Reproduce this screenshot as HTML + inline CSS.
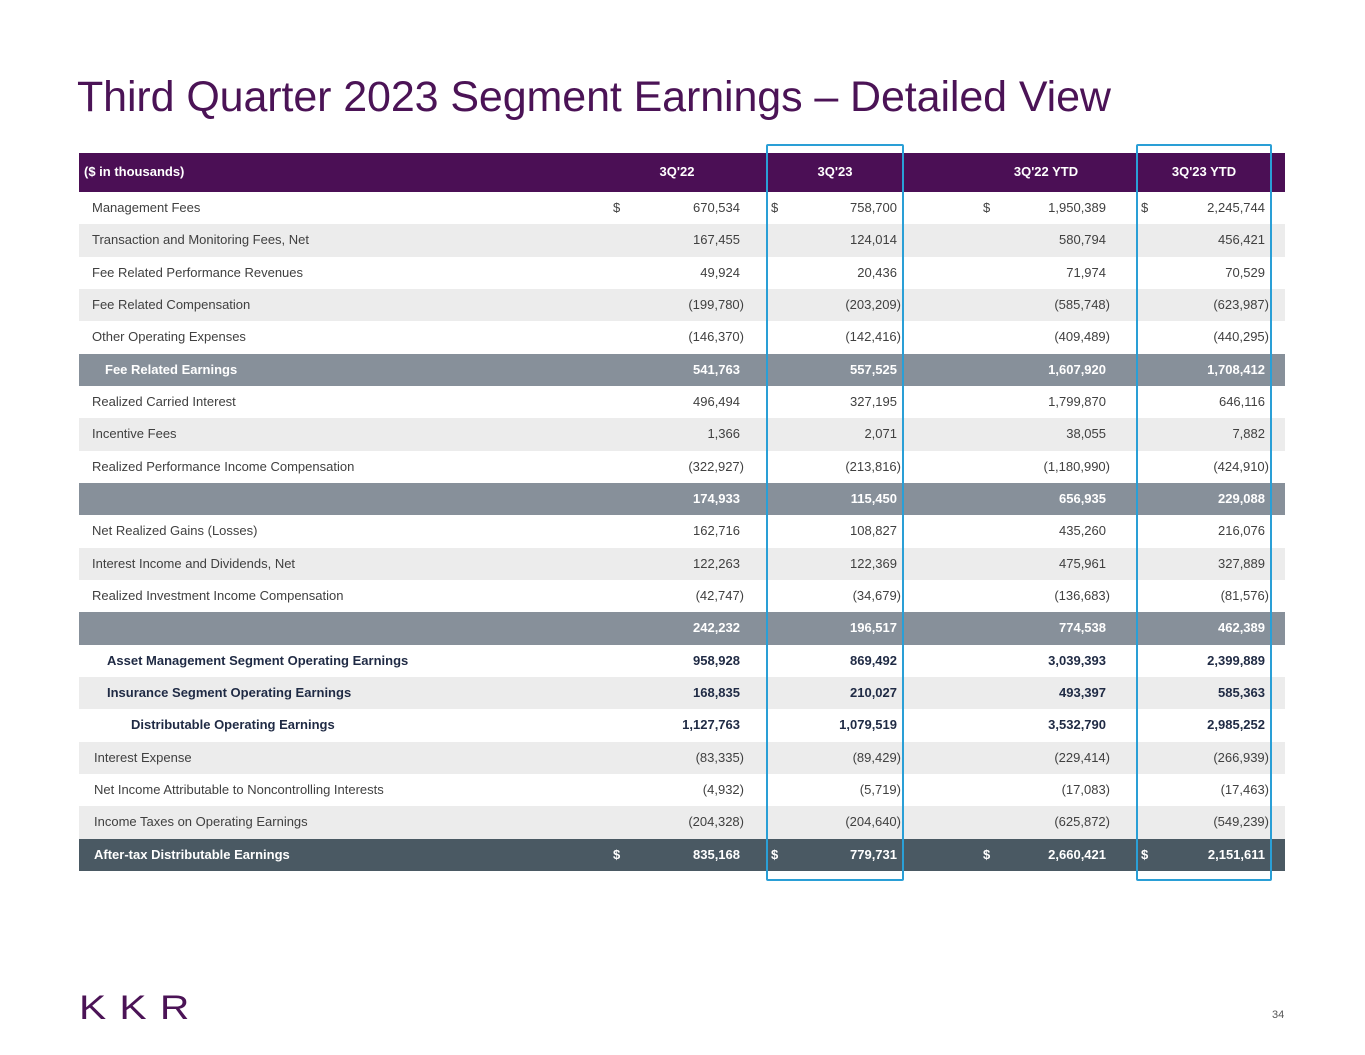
<!DOCTYPE html>
<html><head><meta charset="utf-8"><style>
body{margin:0;width:1365px;height:1055px;background:#fff;font-family:"Liberation Sans",sans-serif;position:relative;overflow:hidden}
.t{position:absolute;white-space:nowrap}
.row{position:absolute;left:79px;width:1206px}
.hl{position:absolute;z-index:5;border:2px solid #2a9fd6;border-radius:2px;box-sizing:border-box}
</style></head><body>
<div class="t" style="left:77px;top:73px;font-size:43px;color:#4b1356;letter-spacing:-0.1px">Third Quarter 2023 Segment Earnings – Detailed View</div>
<div id="tbl"></div>
<div class="t" style="left:79px;top:989px;font-size:34px;color:#4b1356;letter-spacing:11px;transform:scaleX(1.2);transform-origin:left">KKR</div>
<div class="t" style="left:1272px;top:1009px;font-size:11px;color:#555">34</div>
<div class="hl" style="left:766px;top:144px;width:138px;height:737px"></div>
<div class="hl" style="left:1136px;top:144px;width:136px;height:737px"></div>
<script>
const headers=["3Q'22","3Q'23","3Q'22 YTD","3Q'23 YTD"];
const labels=["Management Fees","Transaction and Monitoring Fees, Net","Fee Related Performance Revenues","Fee Related Compensation","Other Operating Expenses","Fee Related Earnings","Realized Carried Interest","Incentive Fees","Realized Performance Income Compensation","","Net Realized Gains (Losses)","Interest Income and Dividends, Net","Realized Investment Income Compensation","","Asset Management Segment Operating Earnings","Insurance Segment Operating Earnings","Distributable Operating Earnings","Interest Expense","Net Income Attributable to Noncontrolling Interests","Income Taxes on Operating Earnings","After-tax Distributable Earnings"];
const col3Q22=["670,534","167,455","49,924","(199,780)","(146,370)","541,763","496,494","1,366","(322,927)","174,933","162,716","122,263","(42,747)","242,232","958,928","168,835","1,127,763","(83,335)","(4,932)","(204,328)","835,168"];
const col3Q23=["758,700","124,014","20,436","(203,209)","(142,416)","557,525","327,195","2,071","(213,816)","115,450","108,827","122,369","(34,679)","196,517","869,492","210,027","1,079,519","(89,429)","(5,719)","(204,640)","779,731"];
const col3Q22YTD=["1,950,389","580,794","71,974","(585,748)","(409,489)","1,607,920","1,799,870","38,055","(1,180,990)","656,935","435,260","475,961","(136,683)","774,538","3,039,393","493,397","3,532,790","(229,414)","(17,083)","(625,872)","2,660,421"];
const col3Q23YTD=["2,245,744","456,421","70,529","(623,987)","(440,295)","1,708,412","646,116","7,882","(424,910)","229,088","216,076","327,889","(81,576)","462,389","2,399,889","585,363","2,985,252","(266,939)","(17,463)","(549,239)","2,151,611"];
const rowTypes=["d","d","d","d","d","sub","d","d","d","sub","d","d","d","sub","b","b","b","d","d","d","total"];
const indents=[13,13,13,13,13,26,13,13,13,13,13,13,13,13,28,28,52,15,15,15,15];
const cols=[col3Q22,col3Q23,col3Q22YTD,col3Q23YTD];
const right=[740,897,1106,1265], dollarX=[613,771,983,1141], hdrC=[677,835,1046,1204];
const tbl=document.getElementById('tbl');
function txt(p,s,x,y,st){const d=document.createElement('div');d.className='t';d.textContent=s;d.style.cssText+=`left:${x}px;top:${y}px;`+st;p.appendChild(d);return d;}
const hdr=document.createElement('div');hdr.className='row';


hdr.style.cssText+='top:153px;height:39px;background:#4b0f55';tbl.appendChild(hdr);
txt(hdr,"($ in thousands)",5,11,'font-size:13px;font-weight:bold;color:#fff');
headers.forEach((h,i)=>{const d=txt(hdr,h,hdrC[i]-79,11,'font-size:13px;font-weight:bold;color:#fff;transform:translateX(-50%)');

});
const rh=32.33;
labels.forEach((lab,r)=>{
 const t=rowTypes[r];
 let bg=(r%2===0)?'#fff':'#ececec',color='#404040',fw='normal';
 if(t==='sub'){bg='#87909a';color='#fff';fw='bold';}
 if(t==='total'){bg='#4a5963';color='#fff';fw='bold';}
 if(t==='b'){color='#1f2a44';fw='bold';}
 const row=document.createElement('div');row.className='row';
 
 
 row.style.cssText+=`top:${192+r*rh}px;height:${rh}px;background:${bg}`;tbl.appendChild(row);
 const st=`font-size:13px;font-weight:${fw};color:${color};`;
 txt(row,lab,indents[r],8,st);
 cols.forEach((c,i)=>{const v=c[r];const shift=v.endsWith(')')?4:0;
  const d=txt(row,v,0,8,st+`left:auto;right:${1285-right[i]-shift}px`);
  
  
  if(r===0||t==='total')txt(row,'$',dollarX[i]-79,8,st);});
});
</script>
</body></html>
